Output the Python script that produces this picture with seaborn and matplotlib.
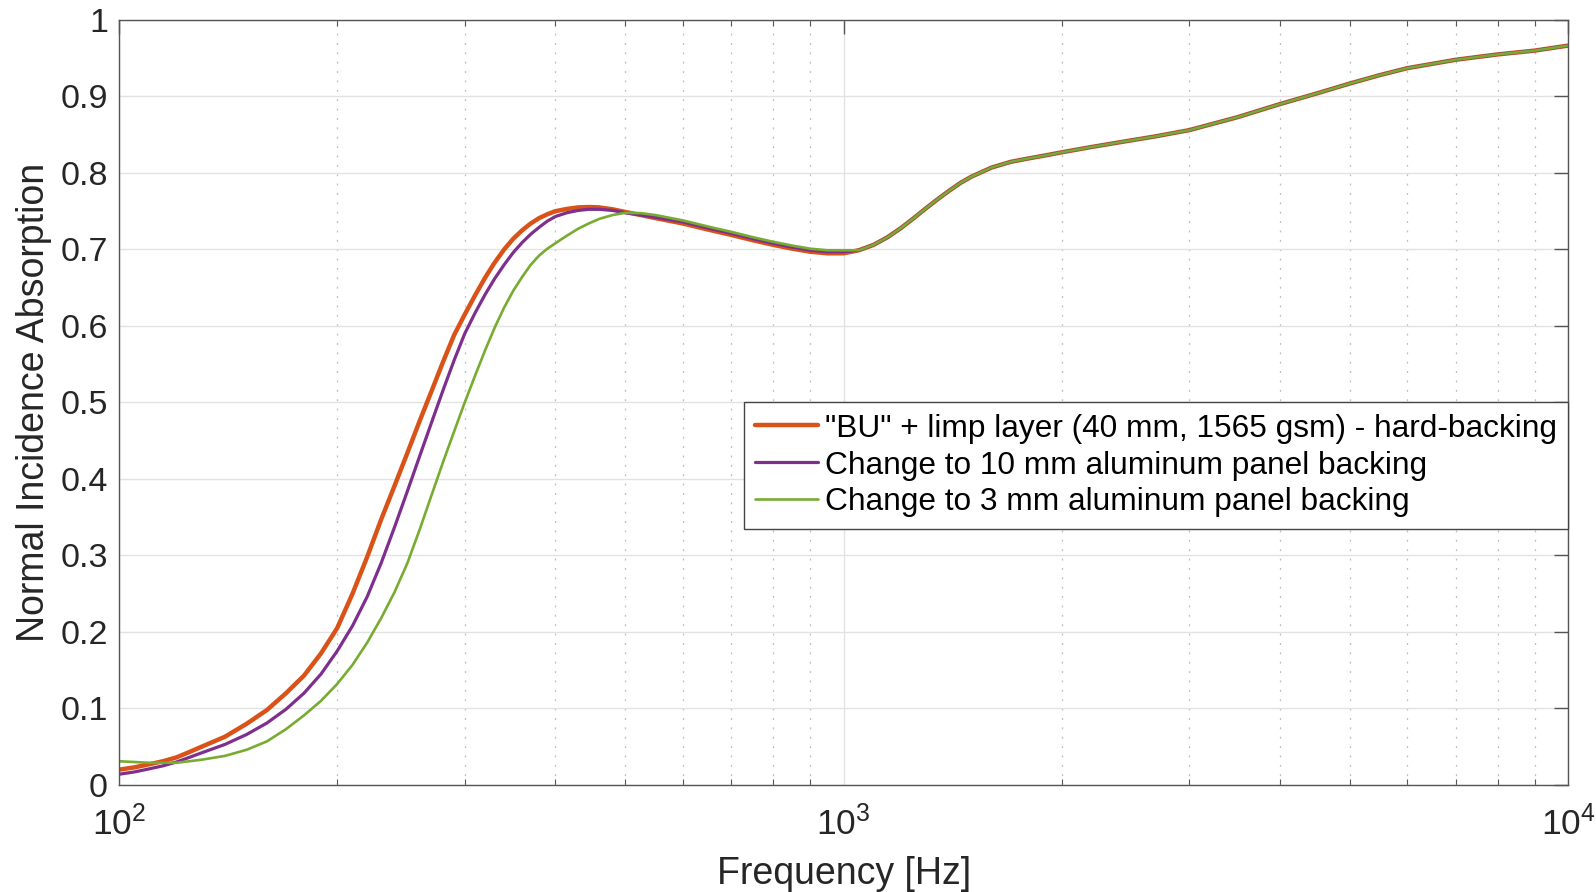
import matplotlib
matplotlib.use("Agg")
import matplotlib.pyplot as plt
import seaborn as sns
from matplotlib.ticker import FixedLocator, NullFormatter

# frequency points [Hz]
freq_low = [100, 105, 110, 115, 120, 125, 130, 140, 150, 160,
            170, 180, 190, 200, 210, 220, 230, 240, 250, 260,
            270, 280, 290, 300, 310, 320, 330, 340, 350, 360,
            370, 380, 390, 400, 415, 430, 445, 460, 480, 500,
            525, 550, 600, 650, 700, 750, 800, 850, 900, 950, 1000]
freq_high = [1050, 1100, 1150, 1200, 1250, 1300, 1350, 1400, 1450, 1500,
             1600, 1700, 1800, 1900, 2000, 2200, 2400, 2700, 3000, 3500,
             4000, 4500, 5000, 5500, 6000, 7000, 8000, 9000, 10000]

# above ~1 kHz the three curves lie on top of each other
high_band = [0.699, 0.706, 0.716, 0.728, 0.741, 0.754, 0.766, 0.777, 0.787, 0.795,
             0.807, 0.8145, 0.819, 0.823, 0.827, 0.834, 0.840, 0.848, 0.856, 0.873,
             0.890, 0.904, 0.917, 0.928, 0.937, 0.948, 0.955, 0.960, 0.9665]

hard_low = [0.020, 0.023, 0.027, 0.031, 0.036, 0.043, 0.050, 0.063, 0.080, 0.098,
            0.120, 0.143, 0.172, 0.205, 0.250, 0.298, 0.347, 0.391, 0.434, 0.476,
            0.515, 0.553, 0.588, 0.615, 0.640, 0.663, 0.683, 0.700, 0.714, 0.725,
            0.734, 0.741, 0.746, 0.750, 0.753, 0.755, 0.7555, 0.755, 0.7525, 0.749,
            0.745, 0.741, 0.734, 0.726, 0.719, 0.712, 0.706, 0.701, 0.697, 0.695, 0.695]
alu10_low = [0.014, 0.017, 0.021, 0.025, 0.030, 0.036, 0.042, 0.053, 0.066, 0.081,
             0.099, 0.120, 0.145, 0.175, 0.208, 0.246, 0.290, 0.337, 0.384, 0.430,
             0.474, 0.516, 0.555, 0.590, 0.617, 0.641, 0.662, 0.680, 0.696, 0.709,
             0.720, 0.729, 0.737, 0.743, 0.748, 0.751, 0.7525, 0.7525, 0.751, 0.748,
             0.745, 0.742, 0.736, 0.728, 0.721, 0.714, 0.708, 0.703, 0.699, 0.697, 0.697]
alu3_low = [0.031, 0.030, 0.029, 0.029, 0.029, 0.031, 0.033, 0.038, 0.046, 0.057,
            0.073, 0.091, 0.110, 0.132, 0.157, 0.186, 0.218, 0.252, 0.290, 0.334,
            0.379, 0.422, 0.462, 0.500, 0.535, 0.568, 0.598, 0.624, 0.646, 0.664,
            0.680, 0.692, 0.701, 0.708, 0.718, 0.727, 0.734, 0.740, 0.745, 0.748,
            0.7475, 0.745, 0.738, 0.730, 0.723, 0.716, 0.710, 0.705, 0.701, 0.699, 0.699]

series_labels = ['"BU" + limp layer (40 mm, 1565 gsm) - hard-backing',
                 'Change to 10 mm aluminum panel backing',
                 'Change to 3 mm aluminum panel backing']
series_values = [hard_low + high_band, alu10_low + high_band, alu3_low + high_band]
freq = freq_low + freq_high
colors = ["#D95319", "#7E2F8E", "#77AC30"]
widths = [3.2, 2.3, 1.9]

xticks = [100, 1000, 10000]
xtick_labels = [r"$10^{2}$", r"$10^{3}$", r"$10^{4}$"]
yticks = [0, 0.1, 0.2, 0.3, 0.4, 0.5, 0.6, 0.7, 0.8, 0.9, 1]
ytick_labels = ["0", "0.1", "0.2", "0.3", "0.4", "0.5", "0.6", "0.7", "0.8", "0.9", "1"]

sns.set_theme(style="white")
plt.rcParams["font.family"] = ["Liberation Sans", "DejaVu Sans"]
plt.rcParams["mathtext.fontset"] = "custom"
plt.rcParams["mathtext.rm"] = "Liberation Sans"
plt.rcParams["mathtext.it"] = "Liberation Sans:italic"
plt.rcParams["mathtext.bf"] = "Liberation Sans:bold"

axcol = "#262626"
fig = plt.figure(figsize=(15.96, 8.92), dpi=100)
ax = fig.add_axes([0.0746, 0.12, 0.9079, 0.8576])

for vals, lab, c, lw in zip(series_values, series_labels, colors, widths):
    sns.lineplot(x=freq, y=vals, ax=ax, color=c, linewidth=lw, label=lab, sort=False)

ax.set_xscale("log")
ax.set_xlim(100, 10000)
ax.set_ylim(0, 1)

ax.xaxis.set_major_locator(FixedLocator(xticks))
ax.set_xticklabels(xtick_labels)
ax.xaxis.set_minor_locator(FixedLocator([m * d for d in (100, 1000) for m in range(2, 10)]))
ax.xaxis.set_minor_formatter(NullFormatter())
ax.set_yticks(yticks)
ax.set_yticklabels(ytick_labels)

ax.grid(which="major", color="#e2e2e2", linewidth=1.0, linestyle="-")
ax.grid(which="minor", axis="x", color="#bdbdbd", linewidth=0.9, linestyle=(0, (1.5, 6)))
ax.set_axisbelow(True)

for s in ax.spines.values():
    s.set_visible(True)
    s.set_color("#555555")
    s.set_linewidth(1.0)

ax.tick_params(which="major", direction="in", length=10, width=1, color="#555555",
               top=True, right=True, labelsize=24.5, labelcolor=axcol)
ax.tick_params(which="minor", direction="in", length=4.5, width=0.8, color="#555555",
               top=True, right=False, left=False, bottom=True)
ax.tick_params(axis="y", which="major", pad=8)
ax.tick_params(axis="x", which="major", pad=15, labelsize=25.5)

ax.set_xlabel("Frequency [Hz]", fontsize=27, color=axcol, labelpad=10)
ax.set_ylabel("Normal Incidence Absorption", fontsize=27, color=axcol, labelpad=6)

leg = ax.legend(loc="upper right", bbox_to_anchor=(1.0, 0.5), borderaxespad=0,
                fontsize=22.8, frameon=True, fancybox=False, framealpha=1,
                edgecolor="#444444", handlelength=2.0, handletextpad=0.22,
                labelspacing=0.22, borderpad=0.35)
leg.get_frame().set_linewidth(1.0)
for t in leg.get_texts():
    t.set_color("black")

fig.savefig("out.png", dpi=100)
